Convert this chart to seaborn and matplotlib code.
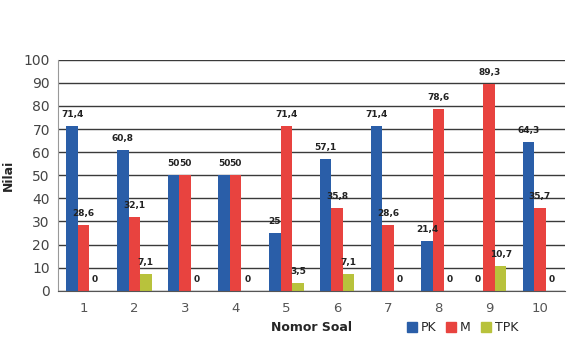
import matplotlib
matplotlib.use("Agg")
import matplotlib.pyplot as plt
import seaborn as sns
import pandas as pd
import numpy as np

categories = ["1", "2", "3", "4", "5", "6", "7", "8", "9", "10"]
series_names = ["PK", "M", "TPK"]
pk = [71.4, 60.8, 50, 50, 25, 57.1, 71.4, 21.4, 0, 64.3]
m = [28.6, 32.1, 50, 50, 71.4, 35.8, 28.6, 78.6, 89.3, 35.7]
tpk = [0, 7.1, 0, 0, 3.5, 7.1, 0, 0, 10.7, 0]
pk_labels = ["71,4", "60,8", "50", "50", "25", "57,1", "71,4", "21,4", "0", "64,3"]
m_labels = ["28,6", "32,1", "50", "50", "71,4", "35,8", "28,6", "78,6", "89,3", "35,7"]
tpk_labels = ["0", "7,1", "0", "0", "3,5", "7,1", "0", "0", "10,7", "0"]
yticks = [0, 10, 20, 30, 40, 50, 60, 70, 80, 90, 100]

colors = {"PK": "#2a5ea8", "M": "#e8433f", "TPK": "#b8c23c"}

df = pd.DataFrame({
    "Nomor Soal": categories * 3,
    "Nilai": pk + m + tpk,
    "Seri": ["PK"] * 10 + ["M"] * 10 + ["TPK"] * 10,
})

sns.set_style("white")
plt.rcParams['font.family'] = ['DejaVu Sans']

fig = plt.figure(figsize=(5.71, 3.45), dpi=100)
ax = fig.add_axes([0.102, 0.157, 0.888, 0.67])

sns.barplot(data=df, x="Nomor Soal", y="Nilai", hue="Seri", order=categories,
            hue_order=series_names, palette=colors, width=0.68, saturation=1,
            ax=ax, legend=False, errorbar=None, linewidth=0)

ax.set_ylim(0, 100)
ax.set_xlim(-0.5, 9.5)
ax.set_yticks(yticks)
ax.yaxis.grid(True, color="#3a3a3a", linewidth=1.0)
ax.set_axisbelow(True)
for s in ["top", "right"]:
    ax.spines[s].set_visible(False)
ax.spines["left"].set_color("#999999")
ax.spines["bottom"].set_color("#555555")
ax.tick_params(axis="y", labelsize=10, colors="#444444", length=0, pad=6)
ax.tick_params(axis="x", labelsize=9.5, colors="#555555", length=0, pad=8)
ax.set_xticks(np.arange(-0.5, 10, 1), minor=True)
ax.tick_params(axis="x", which="minor", length=4, color="#555555")

ax.set_ylabel("Nilai", fontsize=9, fontweight="bold", labelpad=6)
ax.set_xlabel("Nomor Soal", fontsize=9, fontweight="bold", labelpad=4)

for cont, labs in zip(ax.containers, [pk_labels, m_labels, tpk_labels]):
    ax.bar_label(cont, labels=labs, padding=5, fontsize=6.5, fontweight="bold", color="#222222")

handles = [plt.Rectangle((0, 0), 1, 1, color=colors[n]) for n in series_names]
fig.legend(handles, series_names, loc="center", bbox_to_anchor=(0.81, 0.05), ncol=3,
           frameon=False, fontsize=9, handlelength=0.8, handleheight=0.8,
           columnspacing=0.8, handletextpad=0.3)

fig.savefig("out.png", dpi=100)
